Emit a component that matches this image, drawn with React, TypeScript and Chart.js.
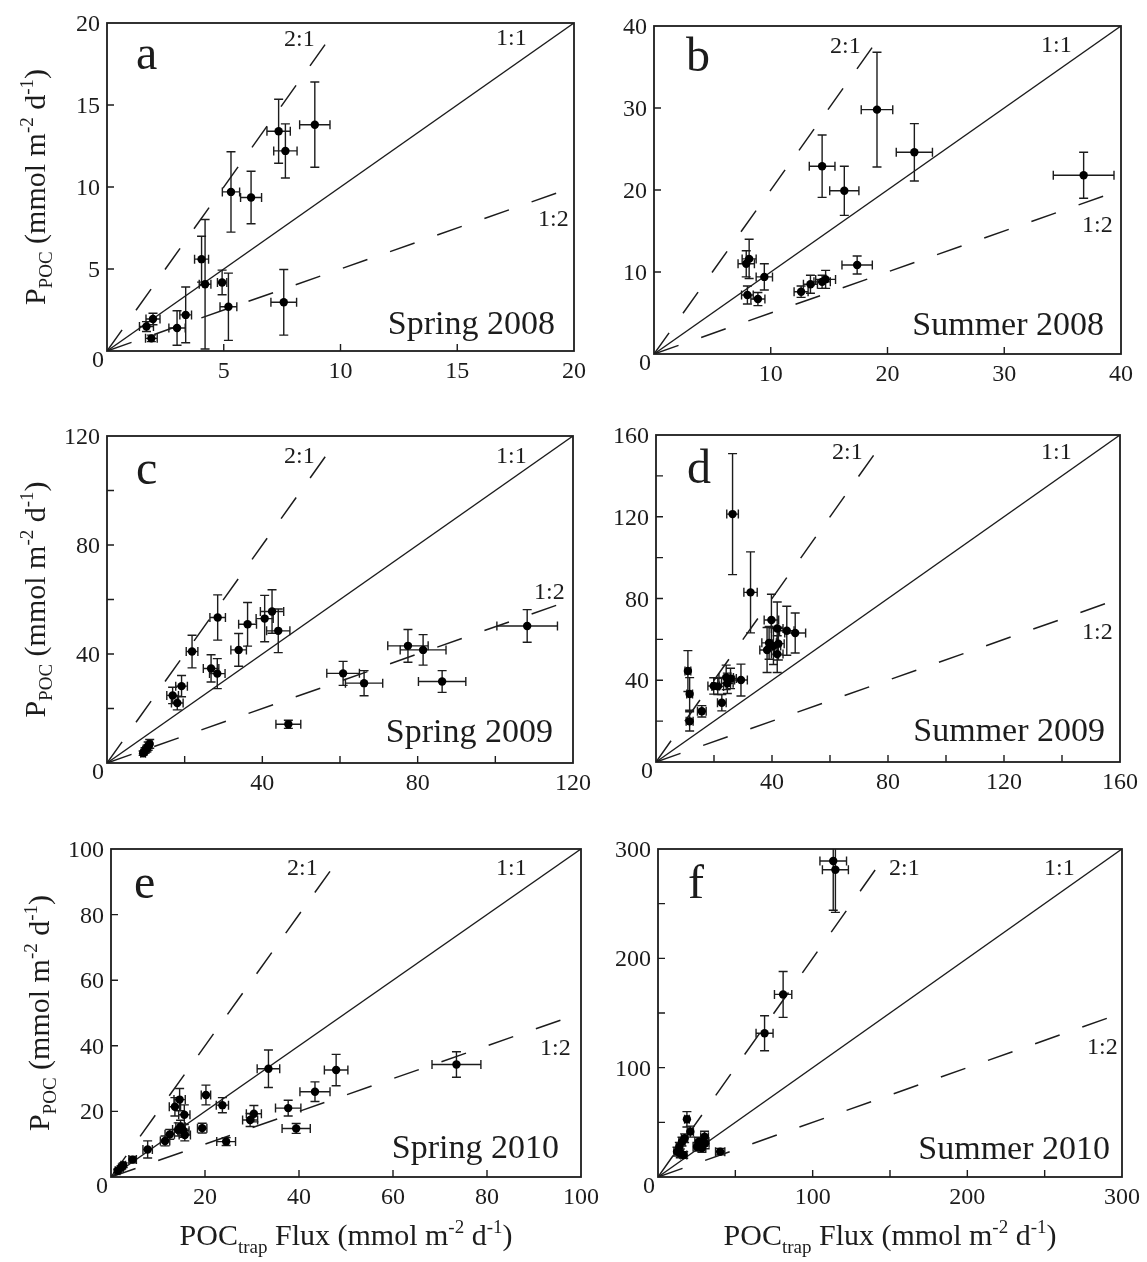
import { useEffect, useRef } from "react";
import { Chart, registerables } from "chart.js";

Chart.register(...registerables);

// ---- Spring 2008 (panel a) ----
const spring2008X = [1.69, 1.97, 1.9, 3.0, 3.37, 4.05, 4.2, 4.93, 5.2, 5.31, 6.17, 7.35, 7.64, 7.57, 8.9];
const spring2008Y = [1.49, 1.95, 0.77, 1.4, 2.2, 5.6, 4.07, 4.18, 2.7, 9.7, 9.36, 13.4, 12.2, 2.97, 13.8];
const spring2008XErr = [0.3, 0.3, 0.25, 0.35, 0.25, 0.3, 0.25, 0.2, 0.36, 0.37, 0.45, 0.5, 0.5, 0.55, 0.65];
const spring2008YErr = [0.3, 0.35, 0.2, 1.05, 1.7, 1.4, 3.95, 0.75, 2.05, 2.45, 1.6, 1.95, 1.65, 2.0, 2.6];

// ---- Summer 2008 (panel b) ----
const summer2008X = [7.9, 8.15, 8.0, 8.9, 9.45, 12.6, 13.4, 14.4, 14.7, 17.4, 14.4, 16.3, 19.1, 22.3, 36.8];
const summer2008Y = [11.0, 11.6, 7.2, 6.7, 9.4, 7.6, 8.5, 8.8, 9.1, 10.85, 22.9, 19.9, 29.8, 24.6, 21.8];
const summer2008XErr = [0.7, 0.6, 0.5, 0.6, 0.7, 0.6, 0.6, 0.7, 0.85, 1.3, 1.1, 1.25, 1.35, 1.55, 2.6];
const summer2008YErr = [1.6, 2.4, 1.1, 0.8, 1.6, 0.7, 1.1, 0.8, 1.1, 1.1, 3.8, 3.0, 7.0, 3.5, 2.8];

// ---- Spring 2009 (panel c) ----
const spring2009X = [9.3, 9.8, 10.3, 10.6, 11.0, 16.9, 18.1, 19.2, 21.9, 26.8, 28.4, 28.5, 33.9, 36.2, 40.6, 42.5, 44.1, 46.7, 60.8, 66.2, 77.5, 81.4, 86.3, 108.2];
const spring2009Y = [3.6, 4.6, 5.3, 6.2, 7.0, 24.8, 22.0, 28.2, 40.9, 34.7, 32.8, 53.4, 41.5, 50.9, 53.0, 55.6, 48.5, 14.2, 32.9, 29.3, 43.0, 41.5, 29.9, 50.3];
const spring2009XErr = [0.6, 0.6, 0.7, 0.6, 0.6, 1.5, 1.5, 1.5, 1.5, 2.0, 2.0, 2.0, 2.0, 2.3, 2.2, 3.0, 3.0, 3.2, 4.2, 4.8, 5.2, 5.9, 6.1, 7.8];
const spring2009YErr = [0.8, 1.0, 1.2, 1.5, 1.6, 3.0, 2.5, 3.9, 6.0, 5.0, 5.5, 8.3, 6.0, 8.0, 8.5, 8.0, 8.0, 1.5, 4.4, 4.6, 6.0, 5.6, 4.0, 6.0];

// ---- Summer 2009 (panel d) ----
const summer2009X = [26.4, 32.6, 11.0, 11.6, 11.6, 15.8, 19.9, 21.3, 22.7, 24.2, 24.6, 25.7, 29.3, 38.3, 39.0, 39.8, 40.5, 41.8, 41.8, 42.2, 45.1, 48.0];
const summer2009Y = [121.3, 83.0, 44.5, 33.3, 19.9, 24.8, 37.2, 37.0, 29.0, 41.4, 38.5, 40.9, 40.1, 54.8, 58.3, 69.5, 56.7, 65.3, 52.8, 57.9, 64.2, 63.1];
const summer2009XErr = [2.0, 2.3, 1.0, 1.0, 1.2, 1.5, 2.0, 2.0, 1.5, 2.5, 2.0, 2.0, 2.2, 2.5, 2.5, 2.5, 2.5, 2.0, 2.0, 2.0, 2.5, 3.6];
const summer2009YErr = [29.6, 19.8, 10.0, 8.0, 4.7, 2.8, 4.0, 4.0, 4.0, 6.0, 5.0, 5.0, 7.8, 11.0, 8.0, 12.6, 9.0, 13.0, 9.0, 8.0, 12.0, 9.8];

// ---- Spring 2010 (panel e) ----
const spring2010X = [1.4, 2.1, 2.6, 4.6, 7.8, 11.5, 12.5, 13.6, 14.6, 14.3, 14.8, 15.4, 15.7, 15.6, 19.4, 20.2, 23.7, 24.5, 29.6, 30.4, 33.5, 37.7, 39.4, 43.4, 47.9, 73.5];
const spring2010Y = [1.9, 2.8, 3.6, 5.3, 8.4, 11.0, 13.0, 21.4, 23.6, 14.5, 15.3, 14.1, 12.8, 19.0, 14.9, 25.0, 21.9, 10.8, 17.4, 19.3, 33.0, 21.0, 14.8, 26.0, 32.6, 34.3];
const spring2010XErr = [0.5, 0.5, 0.5, 0.8, 1.0, 1.0, 1.0, 1.2, 1.2, 1.2, 1.0, 1.2, 1.2, 1.2, 1.0, 1.0, 1.3, 2.0, 1.6, 1.6, 2.4, 2.7, 3.0, 3.2, 2.5, 5.2];
const spring2010YErr = [0.5, 0.6, 0.7, 1.0, 2.6, 1.5, 1.5, 2.8, 3.4, 2.0, 2.0, 2.0, 1.8, 3.0, 1.5, 3.0, 2.3, 1.2, 2.0, 2.5, 5.7, 2.4, 1.5, 3.0, 4.8, 3.9];

// ---- Summer 2010 (panel f) ----
const summer2010X = [113.3, 114.7, 80.9, 68.9, 18.7, 20.9, 12.3, 14.4, 16.6, 15.5, 17.2, 13.8, 25.2, 26.3, 30.1, 30.5, 28.4, 40.2];
const summer2010Y = [289.0, 281.0, 167.0, 131.5, 52.8, 41.5, 23.2, 21.6, 20.1, 32.3, 35.4, 27.7, 27.7, 32.3, 36.9, 30.8, 26.6, 23.2];
const summer2010XErr = [8.6, 8.4, 5.6, 5.5, 1.5, 2.0, 2.0, 2.0, 2.0, 2.0, 2.0, 2.0, 2.5, 2.5, 2.5, 2.5, 2.5, 3.0];
const summer2010YErr = [45.0, 39.0, 21.0, 16.0, 7.0, 5.0, 4.0, 4.0, 3.0, 4.0, 4.0, 4.0, 4.0, 4.0, 5.0, 5.0, 4.0, 3.0];

// Axis extents and tick spacing per panel
const axisMax = [20, 40, 120, 160, 100, 300];
const tickSteps = [5, 10, 20, 20, 20, 50];
const labelSteps = [5, 10, 40, 40, 20, 100];
// x where the 2:1 reference line stops
const ratio21End = [9.75, 19.4, 58.3, 77.6, 48.5, 143.5];

const panelLetters = ["a", "b", "c", "d", "e", "f"];
const seasonLabels = ["Spring 2008", "Summer 2008", "Spring 2009", "Summer 2009", "Spring 2010", "Summer 2010"];

const FONT = '"Liberation Serif", "Times New Roman", Times, serif';
const INK = "#1c1c1c";

type Rect = { x: number; y: number; w: number; h: number };
type Area = { l: number; r: number; t: number; b: number };

interface Layout {
  canvas: Rect;
  area: Area;
  lab21: [number, number];
  lab11: [number, number];
  lab12: [number, number];
  letter: [number, number];
  season: [number, number];
  yTitle: boolean;
  xTitle: boolean;
}

const layouts: Layout[] = [
  { canvas: { x: 0, y: 0, w: 600, h: 400 }, area: { l: 107, r: 574, t: 23, b: 351 }, lab21: [177, 23], lab11: [389, 22], lab12: [431, 203], letter: [29, 46], season: [19, 17], yTitle: true, xTitle: false },
  { canvas: { x: 600, y: 0, w: 547, h: 400 }, area: { l: 654, r: 1121, t: 26, b: 354 }, lab21: [176, 27], lab11: [387, 26], lab12: [428, 206], letter: [32, 45], season: [17, 19], yTitle: false, xTitle: false },
  { canvas: { x: 0, y: 400, w: 600, h: 420 }, area: { l: 107, r: 573, t: 436, b: 763 }, lab21: [177, 27], lab11: [389, 27], lab12: [427, 163], letter: [29, 48], season: [20, 21], yTitle: true, xTitle: false },
  { canvas: { x: 600, y: 400, w: 547, h: 420 }, area: { l: 656, r: 1120, t: 435, b: 762 }, lab21: [176, 24], lab11: [385, 24], lab12: [426, 204], letter: [31, 48], season: [15, 21], yTitle: false, xTitle: false },
  { canvas: { x: 0, y: 820, w: 600, h: 442 }, area: { l: 111, r: 581, t: 849, b: 1177 }, lab21: [176, 26], lab11: [385, 26], lab12: [429, 206], letter: [23, 49], season: [22, 19], yTitle: true, xTitle: true },
  { canvas: { x: 600, y: 820, w: 547, h: 442 }, area: { l: 658, r: 1122, t: 849, b: 1177 }, lab21: [231, 26], lab11: [386, 26], lab12: [429, 205], letter: [30, 49], season: [12, 18], yTitle: false, xTitle: true },
];

interface Series {
  xs: number[];
  ys: number[];
  xErr: number[];
  yErr: number[];
}

const series: Series[] = [
  { xs: spring2008X, ys: spring2008Y, xErr: spring2008XErr, yErr: spring2008YErr },
  { xs: summer2008X, ys: summer2008Y, xErr: summer2008XErr, yErr: summer2008YErr },
  { xs: spring2009X, ys: spring2009Y, xErr: spring2009XErr, yErr: spring2009YErr },
  { xs: summer2009X, ys: summer2009Y, xErr: summer2009XErr, yErr: summer2009YErr },
  { xs: spring2010X, ys: spring2010Y, xErr: spring2010XErr, yErr: spring2010YErr },
  { xs: summer2010X, ys: summer2010Y, xErr: summer2010XErr, yErr: summer2010YErr },
];

type Seg = { t: string; size: number; dy: number };

const yTitleSegs: Seg[] = [
  { t: "P", size: 30, dy: 0 },
  { t: "POC", size: 19, dy: 7 },
  { t: " (mmol m", size: 30, dy: 0 },
  { t: "-2", size: 19, dy: -12 },
  { t: " d", size: 30, dy: 0 },
  { t: "-1", size: 19, dy: -12 },
  { t: ")", size: 30, dy: 0 },
];

const xTitleSegs: Seg[] = [
  { t: "POC", size: 30, dy: 0 },
  { t: "trap", size: 19, dy: 8 },
  { t: " Flux (mmol m", size: 30, dy: 0 },
  { t: "-2", size: 19, dy: -12 },
  { t: " d", size: 30, dy: 0 },
  { t: "-1", size: 19, dy: -12 },
  { t: ")", size: 30, dy: 0 },
];

function drawRich(ctx: CanvasRenderingContext2D, segs: Seg[], cx: number, baseline: number) {
  const widths = segs.map((s) => {
    ctx.font = `${s.size}px ${FONT}`;
    return ctx.measureText(s.t).width;
  });
  const total = widths.reduce((a, b) => a + b, 0);
  let x = cx - total / 2;
  ctx.textAlign = "left";
  ctx.textBaseline = "alphabetic";
  segs.forEach((s, i) => {
    ctx.font = `${s.size}px ${FONT}`;
    ctx.fillText(s.t, x, baseline + s.dy);
    x += widths[i];
  });
}

function makeDecor(idx: number) {
  const lay = layouts[idx];
  const s = series[idx];
  const max = axisMax[idx];
  const step = tickSteps[idx];
  const lstep = labelSteps[idx];
  return {
    id: "panelDecor" + idx,
    beforeDatasetsDraw(chart: any) {
      const { ctx, chartArea: a } = chart;
      const sx = chart.scales.x;
      const sy = chart.scales.y;
      const cap = 4.5;
      ctx.save();
      ctx.beginPath();
      ctx.rect(a.left, a.top, a.right - a.left, a.bottom - a.top);
      ctx.clip();
      ctx.strokeStyle = INK;
      ctx.lineWidth = 1.4;
      for (let i = 0; i < s.xs.length; i++) {
        const px = sx.getPixelForValue(s.xs[i]);
        const py = sy.getPixelForValue(s.ys[i]);
        const x0 = sx.getPixelForValue(s.xs[i] - s.xErr[i]);
        const x1 = sx.getPixelForValue(s.xs[i] + s.xErr[i]);
        const y0 = sy.getPixelForValue(s.ys[i] - s.yErr[i]);
        const y1 = sy.getPixelForValue(s.ys[i] + s.yErr[i]);
        ctx.beginPath();
        ctx.moveTo(px, y0);
        ctx.lineTo(px, y1);
        ctx.moveTo(px - cap, y0);
        ctx.lineTo(px + cap, y0);
        ctx.moveTo(px - cap, y1);
        ctx.lineTo(px + cap, y1);
        ctx.moveTo(x0, py);
        ctx.lineTo(x1, py);
        ctx.moveTo(x0, py - cap);
        ctx.lineTo(x0, py + cap);
        ctx.moveTo(x1, py - cap);
        ctx.lineTo(x1, py + cap);
        ctx.stroke();
      }
      ctx.restore();
    },
    afterDraw(chart: any) {
      const { ctx, chartArea: a } = chart;
      const sx = chart.scales.x;
      const sy = chart.scales.y;
      ctx.save();
      // frame
      ctx.strokeStyle = INK;
      ctx.lineWidth = 1.8;
      ctx.strokeRect(a.left, a.top, a.right - a.left, a.bottom - a.top);
      // inward ticks
      ctx.lineWidth = 1.4;
      const n = Math.round(max / step);
      for (let k = 1; k < n; k++) {
        const v = k * step;
        const px = sx.getPixelForValue(v);
        const py = sy.getPixelForValue(v);
        ctx.beginPath();
        ctx.moveTo(px, a.bottom);
        ctx.lineTo(px, a.bottom - 7);
        ctx.moveTo(a.left, py);
        ctx.lineTo(a.left + 7, py);
        ctx.stroke();
      }
      // tick labels
      ctx.fillStyle = INK;
      ctx.font = `24px ${FONT}`;
      const m = Math.round(max / lstep);
      for (let k = 1; k <= m; k++) {
        const v = k * lstep;
        ctx.textAlign = "center";
        ctx.textBaseline = "alphabetic";
        ctx.fillText(String(v), sx.getPixelForValue(v), a.bottom + 27);
        ctx.textAlign = "right";
        ctx.fillText(String(v), a.left - 7, sy.getPixelForValue(v) + 8);
      }
      ctx.textAlign = "right";
      ctx.fillText("0", a.left - 3, a.bottom + 16);

      // ratio labels
      ctx.textAlign = "left";
      ctx.font = `24px ${FONT}`;
      ctx.fillText("2:1", a.left + lay.lab21[0], a.top + lay.lab21[1]);
      ctx.fillText("1:1", a.left + lay.lab11[0], a.top + lay.lab11[1]);
      ctx.fillText("1:2", a.left + lay.lab12[0], a.top + lay.lab12[1]);

      // panel letter
      ctx.font = `48px ${FONT}`;
      ctx.fillText(panelLetters[idx], a.left + lay.letter[0], a.top + lay.letter[1]);

      // season label
      ctx.font = `34px ${FONT}`;
      ctx.textAlign = "right";
      ctx.fillText(seasonLabels[idx], a.right - lay.season[0], a.bottom - lay.season[1]);

      // axis titles
      if (lay.yTitle) {
        ctx.save();
        ctx.translate(a.left - 62, (a.top + a.bottom) / 2);
        ctx.rotate(-Math.PI / 2);
        drawRich(ctx, yTitleSegs, 0, 0);
        ctx.restore();
      }
      if (lay.xTitle) {
        drawRich(ctx, xTitleSegs, (a.left + a.right) / 2, a.bottom + 68);
      }
      ctx.restore();
    },
  };
}

function Panel({ idx }: { idx: number }) {
  const ref = useRef<HTMLCanvasElement>(null);
  useEffect(() => {
    const lay = layouts[idx];
    const s = series[idx];
    const max = axisMax[idx];
    const c = lay.canvas;
    const points = s.xs.map((x, i) => ({ x, y: s.ys[i] }));
    const lineBase = {
      showLine: true,
      pointRadius: 0,
      borderColor: INK,
      fill: false,
      order: 2,
    };
    const chart = new Chart(ref.current as HTMLCanvasElement, {
      type: "scatter",
      data: {
        datasets: [
          {
            ...lineBase,
            label: "1:1",
            data: [{ x: 0, y: 0 }, { x: max, y: max }],
            borderWidth: 1.4,
          },
          {
            ...lineBase,
            label: "2:1",
            data: [{ x: 0, y: 0 }, { x: ratio21End[idx], y: 2 * ratio21End[idx] }],
            borderWidth: 1.5,
            borderDash: [26, 24],
          },
          {
            ...lineBase,
            label: "1:2",
            data: [{ x: 0, y: 0 }, { x: max, y: max / 2 }],
            borderWidth: 1.5,
            borderDash: [26, 24],
          },
          {
            label: seasonLabels[idx],
            data: points,
            pointRadius: 4.2,
            pointBackgroundColor: "#000",
            pointBorderColor: "#000",
            pointBorderWidth: 0,
            showLine: false,
            order: 1,
          },
        ],
      } as any,
      options: {
        responsive: false,
        animation: false,
        devicePixelRatio: 1,
        layout: {
          padding: {
            left: lay.area.l - c.x,
            right: c.x + c.w - lay.area.r,
            top: lay.area.t - c.y,
            bottom: c.y + c.h - lay.area.b,
          },
        },
        plugins: {
          legend: { display: false },
          tooltip: { enabled: false },
        },
        scales: {
          x: { type: "linear", min: 0, max, display: false },
          y: { type: "linear", min: 0, max, display: false },
        },
      },
      plugins: [makeDecor(idx)],
    });
    return () => chart.destroy();
  }, [idx]);
  const c = layouts[idx].canvas;
  return (
    <canvas
      ref={ref}
      width={c.w}
      height={c.h}
      style={{ position: "absolute", left: c.x, top: c.y, width: c.w, height: c.h }}
    />
  );
}

export default function App() {
  return (
    <div
      style={{
        position: "absolute",
        left: 0,
        top: 0,
        width: 1147,
        height: 1262,
        background: "#ffffff",
        overflow: "hidden",
      }}
    >
      {layouts.map((_, i) => (
        <Panel key={i} idx={i} />
      ))}
    </div>
  );
}
